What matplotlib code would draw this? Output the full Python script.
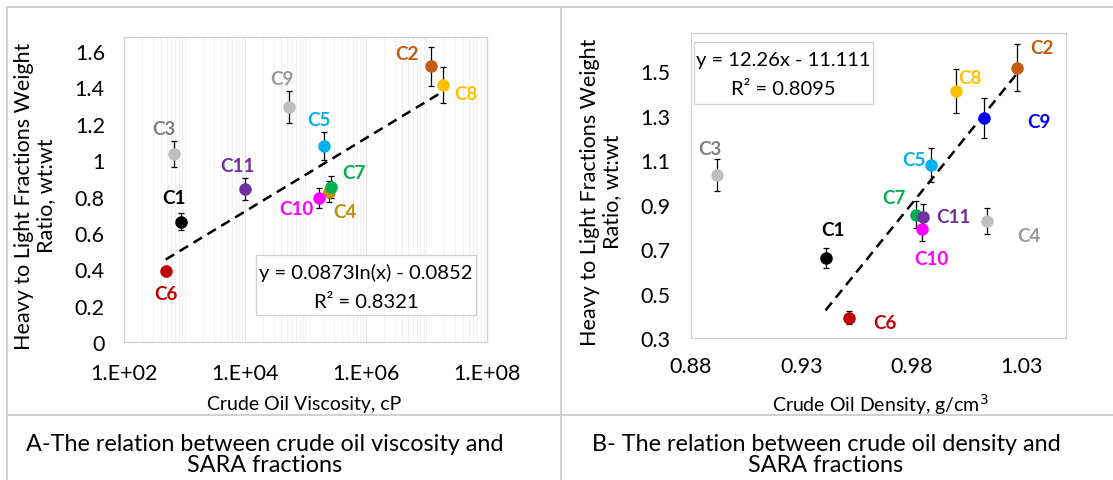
import matplotlib
matplotlib.use('Agg')
import numpy as np
import matplotlib.pyplot as plt
from matplotlib.lines import Line2D
from matplotlib.patches import Rectangle
from matplotlib.ticker import FixedLocator, LogLocator, NullFormatter

plt.rcParams['font.family'] = ['Lato', 'DejaVu Sans']

W, H = 1113, 481

# ---- data ----
crudes = ['C1', 'C2', 'C3', 'C4', 'C5', 'C6', 'C7', 'C8', 'C9', 'C10', 'C11']
viscosity = [880, 1.18e7, 665, 2.48e5, 2.05e5, 484, 2.61e5, 1.87e7, 5.27e4, 1.67e5, 1.0e4]
density = [0.941, 1.028, 0.892, 1.0144, 0.989, 0.9518, 0.9818, 1.000, 1.0128, 0.9847, 0.9851]
ratio = [0.662, 1.516, 1.032, 0.827, 1.079, 0.393, 0.855, 1.412, 1.292, 0.792, 0.843]
ratio_err = [0.046, 0.106, 0.072, 0.058, 0.076, 0.028, 0.060, 0.099, 0.090, 0.055, 0.059]

# log fit (panel A) and linear fit (panel B) as printed on the chart
log_fit = (0.0873, -0.0852, 0.8321)
lin_fit = (12.26, -11.111, 0.8095)

colors_a = ['#000000', '#C55A11', '#BFBFBF', '#BF9000', '#00B0F0', '#C00000',
            '#00B050', '#FFC000', '#BFBFBF', '#FF00FF', '#7030A0']
label_colors_a = ['#000000', '#C55A11', '#808080', '#BF9000', '#00B0F0', '#C00000',
                  '#00B050', '#FFC000', '#999999', '#FF00FF', '#7030A0']
colors_b = ['#000000', '#C55A11', '#BFBFBF', '#BFBFBF', '#00B0F0', '#C00000',
            '#00B050', '#FFC000', '#0000FF', '#FF00FF', '#7030A0']
label_colors_b = ['#000000', '#C55A11', '#808080', '#999999', '#00B0F0', '#C00000',
                  '#00B050', '#FFC000', '#0000FF', '#FF00FF', '#7030A0']

# label offsets in pixels from each point
offs_a = [(-7, 24), (-24, 13), (-10, 26), (16, -20), (-5, 26), (0, -23),
          (23, 14), (23, -8), (-7, 29), (-23, -10), (-8, 23)]
offs_b = [(7, 28), (24, 20), (-8, 27), (41, -14), (-18, 5), (36, -5),
          (-22, 17), (14, 13), (55, -4), (9, -30), (31, 1)]


def ax_rect(x0, y0, x1, y1):
    return [x0 / W, 1 - y1 / H, (x1 - x0) / W, (y1 - y0) / H]


def fx(x):
    return x / W


def fy(y):
    return 1 - y / H


fig = plt.figure(figsize=(W / 100, H / 100), dpi=100)


def scatter_points(ax, xs, cols, lcols, offs):
    for i, name in enumerate(crudes):
        ax.errorbar(xs[i], ratio[i], yerr=ratio_err[i], fmt='none', ecolor='black',
                    elinewidth=0.9, capsize=2.5, capthick=0.9, zorder=3)
        ax.plot(xs[i], ratio[i], 'o', color=cols[i], markersize=8, zorder=4)
        ax.annotate(name, (xs[i], ratio[i]), xytext=offs[i], textcoords='offset pixels',
                    ha='center', va='center', fontsize=13.5, fontweight='bold',
                    color=lcols[i], zorder=5)


def style_axes(ax):
    for s in ax.spines.values():
        s.set_color('#D0D0D0')
        s.set_linewidth(0.9)
    ax.tick_params(length=0, labelsize=15.5)
    ax.tick_params(which='minor', length=0)


# ---- panel A ----
axa = fig.add_axes(ax_rect(124.3, 38.3, 486.7, 343.3))
axa.set_xscale('log')
axa.set_xlim(1e2, 1e8)
axa.set_ylim(0, 1.675)
axa.xaxis.set_major_locator(FixedLocator([1e2, 1e4, 1e6, 1e8]))
axa.xaxis.set_minor_locator(LogLocator(base=10, subs=np.arange(1, 10), numticks=20))
axa.xaxis.set_minor_formatter(NullFormatter())
axa.set_xticklabels(['1.E+02', '1.E+04', '1.E+06', '1.E+08'])
axa.set_yticks([0, 0.2, 0.4, 0.6, 0.8, 1.0, 1.2, 1.4, 1.6])
axa.set_yticklabels(['0', '0.2', '0.4', '0.6', '0.8', '1', '1.2', '1.4', '1.6'])
axa.grid(True, which='major', axis='x', color='#E3E3E3', linewidth=0.8)
axa.grid(True, which='minor', axis='x', color='#F1F1F1', linewidth=0.8)
axa.set_axisbelow(True)
style_axes(axa)
axa.tick_params(axis='y', pad=14)
axa.tick_params(axis='x', pad=15)

xa = np.logspace(np.log10(min(viscosity)), np.log10(max(viscosity)), 100)
axa.plot(xa, log_fit[0] * np.log(xa) + log_fit[1], color='black', lw=1.8,
         dashes=(4, 2.5), zorder=2)
scatter_points(axa, viscosity, colors_a, label_colors_a, offs_a)

axa.add_patch(Rectangle((0.363, 0.0895), 0.607, 0.197, transform=axa.transAxes,
                        facecolor='white', edgecolor='#D0D0D0', lw=0.9, zorder=5))
axa.text(0.667, 0.230, 'y = %.4fln(x) - %.4f' % (log_fit[0], -log_fit[1]),
         transform=axa.transAxes, ha='center', va='center', fontsize=14.5, zorder=6)
axa.text(0.667, 0.135, 'R² = %.4f' % log_fit[2], transform=axa.transAxes,
         ha='center', va='center', fontsize=14.5, zorder=6)

# ---- panel B ----
axb = fig.add_axes(ax_rect(691, 34, 1066, 339.3))
axb.set_xlim(0.88, 1.05)
axb.set_ylim(0.3, 1.672)
axb.set_xticks([0.88, 0.93, 0.98, 1.03])
axb.set_xticklabels(['0.88', '0.93', '0.98', '1.03'])
axb.set_yticks([0.3, 0.5, 0.7, 0.9, 1.1, 1.3, 1.5])
axb.set_yticklabels(['0.3', '0.5', '0.7', '0.9', '1.1', '1.3', '1.5'])
style_axes(axb)
axb.tick_params(axis='y', pad=15)
axb.tick_params(axis='x', pad=13)

fit_x = [x for x, c in zip(density, crudes) if c != 'C3']
xb = np.array([min(fit_x), max(fit_x)])
axb.plot(xb, lin_fit[0] * xb + lin_fit[1], color='black', lw=1.8,
         dashes=(4, 2.5), zorder=2)
scatter_points(axb, density, colors_b, label_colors_b, offs_b)

axb.add_patch(Rectangle((0.008, 0.767), 0.477, 0.203, transform=axb.transAxes,
                        facecolor='white', edgecolor='#D0D0D0', lw=0.9, zorder=5))
axb.text(0.245, 0.912, 'y = %.2fx - %.3f' % (lin_fit[0], -lin_fit[1]),
         transform=axb.transAxes, ha='center', va='center', fontsize=14.5, zorder=6)
axb.text(0.245, 0.819, 'R² = %.4f' % lin_fit[2], transform=axb.transAxes,
         ha='center', va='center', fontsize=14.5, zorder=6)

# ---- axis titles ----
ylab = 'Heavy to Light Fractions Weight\nRatio, wt:wt'
fig.text(fx(35), fy(196), ylab, rotation=90, ha='center', va='center',
         fontsize=15.5, linespacing=1.15)
fig.text(fx(601), fy(192), ylab, rotation=90, ha='center', va='center',
         fontsize=15.5, linespacing=1.15)
fig.text(fx(304), fy(405), 'Crude Oil Viscosity, cP', ha='center', va='center', fontsize=14)
fig.text(fx(880), fy(405), 'Crude Oil Density, g/cm$^3$', ha='center', va='center', fontsize=14)

# ---- captions ----
fig.text(fx(265), fy(455), 'A-The relation between crude oil viscosity and\nSARA fractions',
         ha='center', va='center', fontsize=16.8, linespacing=1.05)
fig.text(fx(826), fy(455), 'B- The relation between crude oil density and\nSARA fractions',
         ha='center', va='center', fontsize=16.8, linespacing=1.05)

# ---- table lines ----
line_c = '#CFCFCF'
for xs, ys in [([7, 1113], [8, 8]), ([7, 7], [8, 481]), ([561, 561], [8, 481]),
               ([7, 1113], [416, 416])]:
    fig.add_artist(Line2D([fx(v) for v in xs], [fy(v) for v in ys],
                          color=line_c, lw=1.4, transform=fig.transFigure))

fig.savefig('out.png', dpi=100)
